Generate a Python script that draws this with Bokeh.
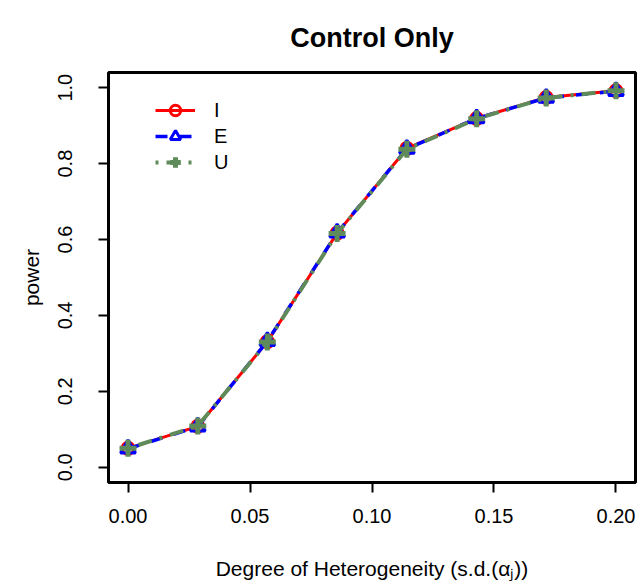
from bokeh.plotting import figure
from bokeh.models import Range1d, FixedTicker, Legend, LegendItem
from bokeh.embed import file_html
from bokeh.resources import INLINE

# data
sd_alpha = [0.0, 0.0286, 0.0571, 0.0857, 0.1143, 0.1429, 0.1714, 0.2]
power_I = [0.050, 0.108, 0.331, 0.617, 0.840, 0.919, 0.974, 0.992]
power_E = [0.049, 0.107, 0.332, 0.618, 0.839, 0.919, 0.973, 0.991]
power_U = [0.050, 0.109, 0.330, 0.616, 0.838, 0.918, 0.973, 0.992]
x_ticks = [0.0, 0.05, 0.10, 0.15, 0.20]
y_ticks = [0.0, 0.2, 0.4, 0.6, 0.8, 1.0]
series_names = ["I", "E", "U"]

FONT = "Liberation Sans"

p = figure(width=641, height=586, output_backend="svg", toolbar_location=None,
           x_range=Range1d(-0.008, 0.208), y_range=Range1d(-0.04, 1.04),
           min_border_left=108, min_border_right=6, min_border_top=71, min_border_bottom=104,
           title="Control Only")

p.title.text_font = FONT
p.title.text_font_size = "27px"
p.title.text_font_style = "bold"
p.title.text_color = "black"
p.title.align = "center"
p.title.standoff = 40

p.grid.visible = False
p.outline_line_color = "black"
p.outline_line_width = 3
p.outline_line_alpha = 1.0
p.background_fill_color = "white"
p.border_fill_color = "white"

for ax in (p.xaxis[0], p.yaxis[0]):
    ax.axis_line_color = None
    ax.major_tick_in = 0
    ax.major_tick_out = 10
    ax.major_tick_line_width = 2
    ax.major_tick_line_color = "black"
    ax.minor_tick_line_color = None
    ax.major_label_text_font = FONT
    ax.major_label_text_font_size = "20px"
    ax.major_label_text_color = "black"
    ax.axis_label_text_font = FONT
    ax.axis_label_text_font_size = "21px"
    ax.axis_label_text_font_style = "normal"
    ax.axis_label_text_color = "black"

p.xaxis.ticker = FixedTicker(ticks=x_ticks)
p.yaxis.ticker = FixedTicker(ticks=y_ticks)
p.xaxis.major_label_overrides = {t: f"{t:.2f}" for t in x_ticks}
p.yaxis.major_label_overrides = {t: f"{t:.1f}" for t in y_ticks}
p.yaxis.major_label_orientation = "vertical"
p.xaxis.major_label_standoff = 16
p.yaxis.major_label_standoff = 26
p.xaxis.axis_label = "Degree of Heterogeneity (s.d.(\u03b1\u2c7c))"
p.yaxis.axis_label = "power"
p.xaxis.axis_label_standoff = 31
p.yaxis.axis_label_standoff = 13

red, blue, green = "#ff0000", "#0000ff", "#5f8b5a"

lI = p.line(sd_alpha, power_I, line_color=red, line_width=3)
mI = p.scatter(sd_alpha, power_I, marker="circle", size=12, fill_color=None,
               line_color=red, line_width=3)
lE = p.line(sd_alpha, power_E, line_color=blue, line_width=3.5, line_dash="12 12")
mE = p.scatter(sd_alpha, power_E, marker="triangle", size=15, fill_color=None,
               line_color=blue, line_width=3)
lU = p.line(sd_alpha, power_U, line_color=green, line_width=4, line_dash="3 8 14 8")
mU = p.scatter(sd_alpha, power_U, marker="cross", size=17, line_color=green,
               line_width=5)

legend = Legend(items=[LegendItem(label=series_names[0], renderers=[lI, mI]),
                       LegendItem(label=series_names[1], renderers=[lE, mE]),
                       LegendItem(label=series_names[2], renderers=[lU, mU])],
                location=(47, 307), orientation="vertical")
legend.background_fill_alpha = 0
legend.border_line_color = None
legend.padding = 0
legend.margin = 0
legend.spacing = 0
legend.glyph_width = 40
legend.glyph_height = 26
legend.label_height = 26
legend.label_standoff = 19
legend.label_text_font = FONT
legend.label_text_font_size = "20px"
legend.label_text_color = "black"
p.add_layout(legend)

open("out.html", "w").write(file_html(p, INLINE))
